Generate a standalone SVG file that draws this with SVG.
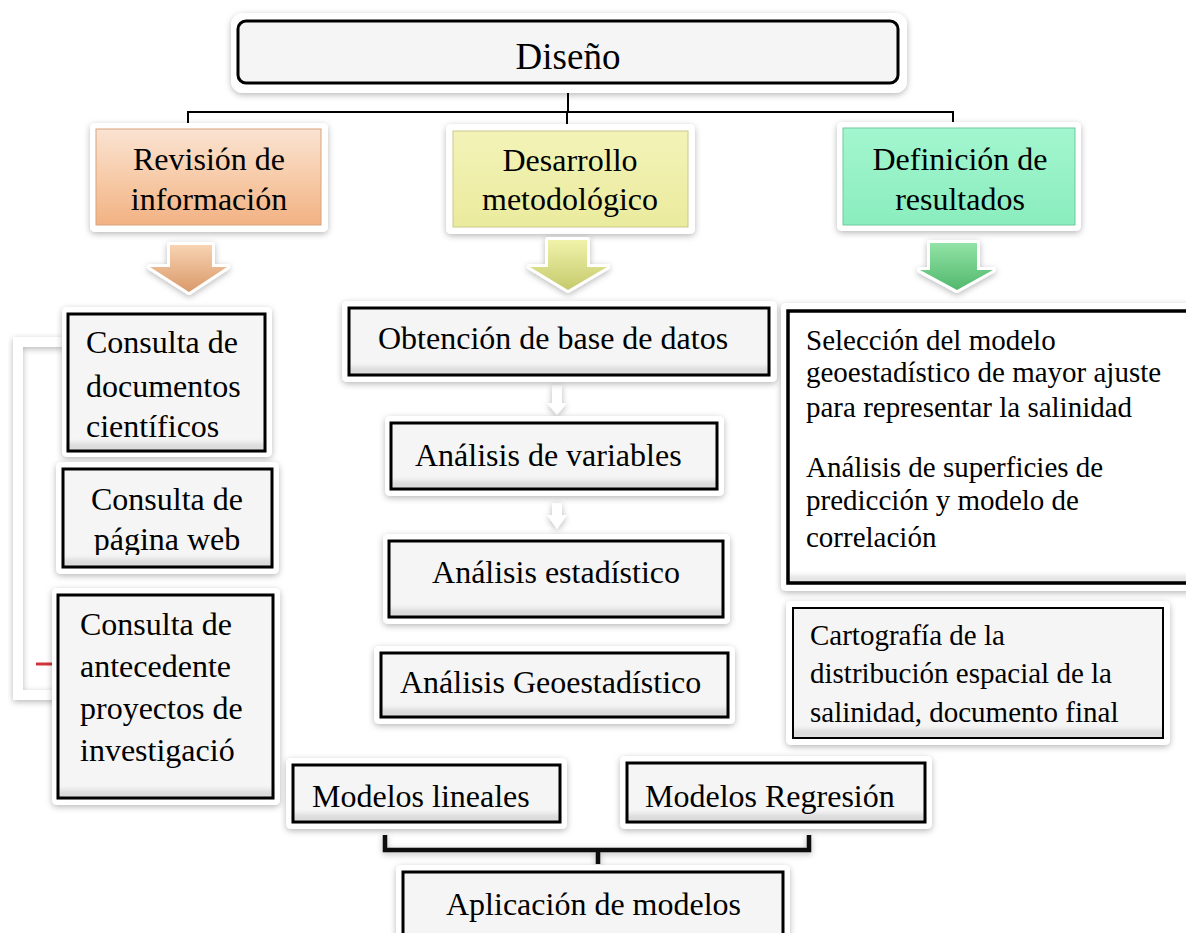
<svg xmlns="http://www.w3.org/2000/svg" width="1186" height="933" viewBox="0 0 1186 933">
<defs>
  <filter id="sh" x="-20%" y="-20%" width="140%" height="140%">
    <feDropShadow dx="0" dy="2" stdDeviation="3" flood-color="#000" flood-opacity="0.28"/>
  </filter>
  <filter id="bevel" x="-5%" y="-5%" width="110%" height="110%">
    <feOffset in="SourceAlpha" dy="-10" result="o"/>
    <feComposite in="SourceAlpha" in2="o" operator="out" result="edge"/>
    <feGaussianBlur in="edge" stdDeviation="2" result="b"/>
    <feFlood flood-color="#000" flood-opacity="0.22"/>
    <feComposite in2="b" operator="in" result="shade"/>
    <feComposite in="shade" in2="SourceAlpha" operator="in" result="shade2"/>
    <feMerge><feMergeNode in="SourceGraphic"/><feMergeNode in="shade2"/></feMerge>
  </filter>
  <linearGradient id="peach" x1="0" y1="0" x2="0" y2="1">
    <stop offset="0" stop-color="#fae3d2"/>
    <stop offset="0.5" stop-color="#f7cba9"/>
    <stop offset="1" stop-color="#f2b283"/>
  </linearGradient>
  <linearGradient id="yellow" x1="0" y1="0" x2="0" y2="1">
    <stop offset="0" stop-color="#f3f3b8"/>
    <stop offset="1" stop-color="#ebeb9e"/>
  </linearGradient>
  <linearGradient id="mint" x1="0" y1="0" x2="0" y2="1">
    <stop offset="0" stop-color="#a3f6cf"/>
    <stop offset="1" stop-color="#8aedbe"/>
  </linearGradient>
  <linearGradient id="apeach" x1="0" y1="0" x2="0" y2="1">
    <stop offset="0" stop-color="#f8d3b2"/>
    <stop offset="1" stop-color="#d9996a"/>
  </linearGradient>
  <linearGradient id="ayellow" x1="0" y1="0" x2="0" y2="1">
    <stop offset="0" stop-color="#f0f2aa"/>
    <stop offset="1" stop-color="#c6ca6c"/>
  </linearGradient>
  <linearGradient id="agreen" x1="0" y1="0" x2="0" y2="1">
    <stop offset="0" stop-color="#92e3a6"/>
    <stop offset="1" stop-color="#52b86c"/>
  </linearGradient>
  <clipPath id="clipWeb"><rect x="63" y="469" width="209" height="86"/></clipPath>
</defs>
<style>
  .glow { fill: #ffffff; filter: url(#sh); }
  .box { fill: #f5f5f5; stroke: #000; stroke-width: 3; filter: url(#bevel); }
  .white { fill: #ffffff; }
  .t { font-family: "Liberation Serif", "Times New Roman", serif; fill: #000; }
  .f31 { font-size: 32px; }
  .f29 { font-size: 29px; }
  .mid { text-anchor: middle; }
  .tree { fill: none; stroke: #000; stroke-width: 2; }
</style>
<rect width="1186" height="933" fill="#ffffff"/>

<g id="connectors">
  <path class="tree" d="M568 84 V112 M188 124 V112 H953 V124 M567 112 V124"/>
  <path d="M64 342 H18 V695 H62" fill="none" stroke="#ffffff" stroke-width="10" filter="url(#sh)"/>
  <line x1="36" y1="664" x2="52" y2="664" stroke="#d0343a" stroke-width="3"/>
  <g filter="url(#sh)" fill="#ffffff">
    <path d="M552 385 H562 V403 H567 L557 415 L547 403 H552 Z"/>
    <path d="M552 503 H562 V515 H567 L557 529 L547 515 H552 Z"/>
  </g>
  <path d="M385 835 V850 H809 V835 M598 850 V864" fill="none" stroke="#111" stroke-width="4.5" filter="url(#sh)"/>
</g>

<g id="diseno">
  <rect class="glow" x="231" y="13" width="676" height="80" rx="12"/>
  <rect x="238" y="21" width="660" height="62" rx="8" fill="#f5f5f5" stroke="#000" stroke-width="3"/>
  <text class="t mid" x="568" y="69" font-size="37">Diseño</text>
</g>

<g id="revision">
  <rect class="glow" x="90" y="123" width="238" height="109" rx="5"/>
  <rect x="96" y="129" width="225" height="96" fill="url(#peach)" stroke="#d7a47c" stroke-width="1"/>
  <text class="t f31 mid" x="209" y="170">Revisión de</text>
  <text class="t f31 mid" x="209" y="210">información</text>
</g>
<g id="arrow-revision">
  <path d="M170 245 H212 V267 H227 L189 292 L150 267 H170 Z" fill="url(#apeach)" stroke="#ffffff" stroke-width="6" stroke-linejoin="round" filter="url(#sh)"/>
  <path d="M170 245 H212 V267 H227 L189 292 L150 267 H170 Z" fill="url(#apeach)"/>
</g>

<g id="desarrollo">
  <rect class="glow" x="446" y="124" width="249" height="110" rx="5"/>
  <rect x="453" y="131" width="235" height="96" fill="url(#yellow)" stroke="#c9c98a" stroke-width="1"/>
  <text class="t f31 mid" x="570" y="171">Desarrollo</text>
  <text class="t f31 mid" x="570" y="210">metodológico</text>
</g>
<g id="arrow-desarrollo">
  <path d="M548 240 H587 V267 H607 L568 290 L530 267 H548 Z" fill="url(#ayellow)" stroke="#ffffff" stroke-width="6" stroke-linejoin="round" filter="url(#sh)"/>
  <path d="M548 240 H587 V267 H607 L568 290 L530 267 H548 Z" fill="url(#ayellow)"/>
</g>

<g id="definicion">
  <rect class="glow" x="837" y="122" width="244" height="109" rx="5"/>
  <rect x="843" y="128" width="232" height="97" fill="url(#mint)" stroke="#6fc99c" stroke-width="1"/>
  <text class="t f31 mid" x="960" y="170">Definición de</text>
  <text class="t f31 mid" x="960" y="210">resultados</text>
</g>
<g id="arrow-definicion">
  <path d="M930 243 H977 V270 H993 L957 290 L920 270 H930 Z" fill="url(#agreen)" stroke="#ffffff" stroke-width="6" stroke-linejoin="round" filter="url(#sh)"/>
  <path d="M930 243 H977 V270 H993 L957 290 L920 270 H930 Z" fill="url(#agreen)"/>
</g>

<g id="consulta-documentos">
  <rect class="glow" x="62" y="307" width="210" height="150" rx="5"/>
  <rect class="box" x="68" y="314" width="197" height="137"/>
  <text class="t f31" x="86" y="353">Consulta de</text>
  <text class="t f31" x="86" y="397">documentos</text>
  <text class="t f31" x="86" y="437">científicos</text>
</g>

<g id="consulta-web">
  <rect class="glow" x="56" y="462" width="223" height="112" rx="5"/>
  <rect class="box" x="63" y="469" width="209" height="98"/>
  <g clip-path="url(#clipWeb)">
    <text class="t f31 mid" x="167" y="510">Consulta de</text>
    <text class="t f31 mid" x="167" y="550">página web</text>
  </g>
</g>

<g id="consulta-antecedente">
  <rect class="glow" x="52" y="588" width="228" height="217" rx="5"/>
  <rect class="box" x="58" y="595" width="215" height="203"/>
  <text class="t f31" x="80" y="635">Consulta de</text>
  <text class="t f31" x="80" y="677">antecedente</text>
  <text class="t f31" x="80" y="719">proyectos de</text>
  <text class="t f31" x="80" y="761">investigació</text>
</g>

<g id="obtencion">
  <rect class="glow" x="342" y="301" width="435" height="81" rx="5"/>
  <rect class="box" x="349" y="308" width="420" height="67"/>
  <text class="t f31" x="378" y="349">Obtención de base de datos</text>
</g>

<g id="analisis-variables">
  <rect class="glow" x="385" y="416" width="339" height="80" rx="5"/>
  <rect class="box" x="391" y="423" width="326" height="66"/>
  <text class="t f31" x="415" y="466">Análisis de variables</text>
</g>

<g id="analisis-estadistico">
  <rect class="glow" x="383" y="534" width="347" height="90" rx="5"/>
  <rect class="box" x="389" y="541" width="334" height="76"/>
  <text class="t f31 mid" x="556" y="583">Análisis estadístico</text>
</g>

<g id="analisis-geo">
  <rect class="glow" x="374" y="646" width="361" height="78" rx="5"/>
  <rect class="box" x="381" y="653" width="347" height="64"/>
  <text class="t f31" x="400" y="693">Análisis Geoestadístico</text>
</g>

<g id="seleccion">
  <rect class="glow" x="781" y="303" width="420" height="288" rx="5"/>
  <rect class="box white" x="788" y="311" width="410" height="272" style="stroke-width:3.5"/>
  <text class="t f29" x="806" y="350">Selección del modelo</text>
  <text class="t f29" x="806" y="382">geoestadístico de mayor ajuste</text>
  <text class="t f29" x="806" y="417">para representar la salinidad</text>
  <text class="t f29" x="806" y="477">Análisis de superficies de</text>
  <text class="t f29" x="806" y="510">predicción y modelo de</text>
  <text class="t f29" x="806" y="547">correlación</text>
</g>

<g id="cartografia">
  <rect class="glow" x="786" y="601" width="384" height="144" rx="5"/>
  <rect class="box" x="793" y="608" width="370" height="130" style="stroke-width:2"/>
  <text class="t f29" x="810" y="645">Cartografía de la</text>
  <text class="t f29" x="810" y="683">distribución espacial de la</text>
  <text class="t f29" x="810" y="722">salinidad, documento final</text>
</g>

<g id="modelos-lineales">
  <rect class="glow" x="286" y="758" width="281" height="71" rx="5"/>
  <rect class="box" x="293" y="765" width="267" height="57"/>
  <text class="t f31" x="312" y="807">Modelos lineales</text>
</g>

<g id="modelos-regresion">
  <rect class="glow" x="620" y="756" width="312" height="73" rx="5"/>
  <rect class="box" x="627" y="763" width="298" height="59"/>
  <text class="t f31" x="645" y="807">Modelos Regresión</text>
</g>

<g id="aplicacion">
  <rect class="glow" x="396" y="865" width="394" height="90" rx="5"/>
  <rect class="box" x="403" y="872" width="380" height="75"/>
  <text class="t f31" x="446" y="915">Aplicación de modelos</text>
</g>
</svg>
